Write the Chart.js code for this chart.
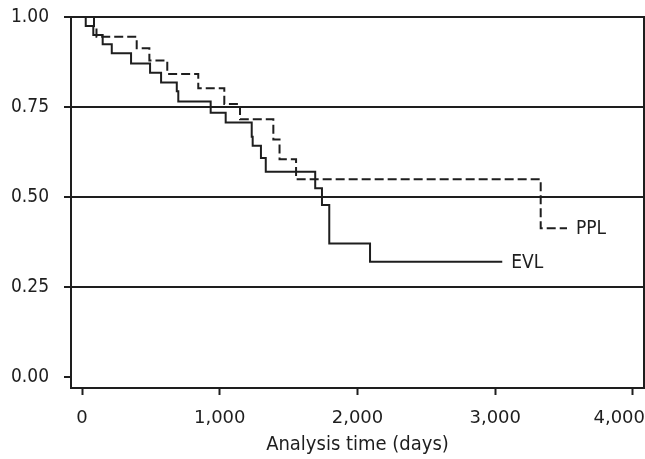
<!DOCTYPE html>
<html>
<head>
<meta charset="utf-8">
<script src="https://cdn.jsdelivr.net/npm/chart.js@4.4.1/dist/chart.umd.min.js"></script>
<style>
  html, body { margin: 0; padding: 0; background: #fff; }
  #wrap { width: 645px; height: 459px; }
</style>
</head>
<body>
<div id="wrap"><canvas id="kmChart" width="645" height="459"></canvas></div>
<script>
// Kaplan-Meier steps (days, survival)
const evlTimes = [0, 27, 82, 150, 216, 356, 494, 574, 688, 699, 934, 1043, 1232, 1239, 1299, 1334, 1693, 1742, 1795, 2091, 3051];
const evlSurv  = [1.0, 0.975, 0.95, 0.924, 0.899, 0.871, 0.845, 0.818, 0.794, 0.765, 0.734, 0.707, 0.667, 0.642, 0.608, 0.570, 0.524, 0.478, 0.371, 0.320, 0.320];

const pplTimes = [0, 87, 105, 397, 489, 619, 844, 1033, 1147, 1389, 1434, 1554, 3330, 3521];
const pplSurv  = [1.0, 0.97, 0.945, 0.913, 0.879, 0.842, 0.802, 0.758, 0.716, 0.66, 0.605, 0.549, 0.413, 0.413];

const xTicks = [0, 1000, 2000, 3000, 4000];
const yTicks = [0, 0.25, 0.5, 0.75, 1];
const xTitle = 'Analysis time (days)';

const ink = '#1e1e1e';
const narrow = '"DejaVu Sans Condensed", "Liberation Sans Narrow", sans-serif';
const wide = '"DejaVu Sans", sans-serif';

function toPoints(times, surv) {
  return times.map((t, i) => ({ x: t, y: surv[i] }));
}

// frame on top and right, curve names at line ends, last x label kept inside
const framePlugin = {
  id: 'frame',
  beforeDraw(chart) {
    const items = chart.scales.x.getLabelItems(chart.chartArea);
    const last = items[items.length - 1];
    if (last) {
      last.options.textAlign = 'right';
      last.options.translation[0] = chart.width;
    }
  },
  afterDatasetsDraw(chart) {
    const { ctx, chartArea: a } = chart;
    ctx.save();
    ctx.strokeStyle = ink;
    ctx.lineWidth = 2;
    ctx.beginPath();
    ctx.moveTo(a.left, a.top);
    ctx.lineTo(a.right, a.top);
    ctx.lineTo(a.right, a.bottom);
    ctx.stroke();

    ctx.fillStyle = ink;
    ctx.font = '19px ' + narrow;
    ctx.textBaseline = 'middle';
    ctx.textAlign = 'left';
    chart.data.datasets.forEach(ds => {
      const p = ds.data[ds.data.length - 1];
      const px = chart.scales.x.getPixelForValue(p.x);
      const py = chart.scales.y.getPixelForValue(p.y);
      ctx.fillText(ds.label, px + 9, py + 1);
    });
    ctx.restore();
  }
};

new Chart(document.getElementById('kmChart'), {
  type: 'line',
  data: {
    datasets: [
      {
        label: 'EVL',
        data: toPoints(evlTimes, evlSurv),
        stepped: 'before',
        borderColor: ink,
        borderWidth: 2,
        pointRadius: 0,
        fill: false
      },
      {
        label: 'PPL',
        data: toPoints(pplTimes, pplSurv),
        stepped: 'before',
        borderColor: ink,
        borderWidth: 2,
        borderDash: [9, 4],
        pointRadius: 0,
        fill: false
      }
    ]
  },
  options: {
    responsive: false,
    animation: false,
    devicePixelRatio: 1,
    layout: { padding: { top: 17, right: 1, left: 0, bottom: 0 } },
    plugins: {
      legend: { display: false },
      tooltip: { enabled: false }
    },
    scales: {
      x: {
        type: 'linear',
        min: -80,
        max: 4080,
        afterBuildTicks: s => { s.ticks = xTicks.map(v => ({ value: v })); },
        ticks: {
          callback: v => v.toLocaleString('en-US'),
          color: ink,
          font: { family: wide, size: 18 },
          padding: 13,
          maxRotation: 0,
          autoSkip: false
        },
        grid: { drawOnChartArea: false, tickLength: 7, tickColor: ink, tickWidth: 2 },
        border: { color: ink, width: 2 },
        title: {
          display: true,
          text: xTitle,
          color: ink,
          font: { family: narrow, size: 20 },
          padding: 2
        },
        afterFit: s => { s.height = 71; s.paddingLeft = 0; s.paddingRight = 0; }
      },
      y: {
        min: -0.0306,
        max: 1,
        afterBuildTicks: s => { s.ticks = yTicks.map(v => ({ value: v })); },
        ticks: {
          callback: v => v.toFixed(2),
          color: ink,
          font: { family: narrow, size: 19 },
          padding: 15
        },
        grid: {
          color: c => (c.tick && c.tick.value === 0) ? 'rgba(0,0,0,0)' : ink,
          lineWidth: 2,
          tickLength: 7,
          tickColor: ink,
          tickWidth: 2
        },
        border: { color: ink, width: 2 },
        afterFit: s => { s.width = 71; s.paddingTop = 0; s.paddingBottom = 0; }
      }
    }
  },
  plugins: [framePlugin]
});
</script>
</body>
</html>
